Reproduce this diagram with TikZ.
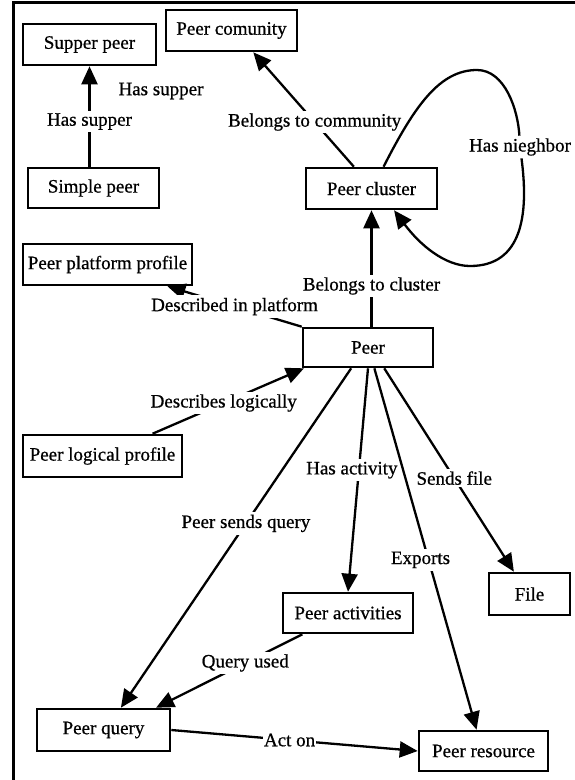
\documentclass[tikz,border=0pt]{standalone}
\usepackage{fontspec}
\setmainfont[FakeBold=0.7]{Liberation Serif}
\usetikzlibrary{arrows.meta,calc}
\begin{document}
\begin{tikzpicture}[x=1pt,y=-1pt,
  txt/.style={font=\fontsize{19}{22}\selectfont},
  box/.style={txt,draw,line width=2.6pt,inner sep=0pt,minimum height=41pt},
  lab/.style={txt,fill=white,inner sep=2.5pt},
  con/.style={line width=2.3pt},
  arr/.style={con,-{Triangle[length=18pt,width=16pt]}}]
\useasboundingbox (0,0) rectangle (574,780);
% frame
\draw[line width=3pt] (13,781) -- (13,2) -- (575,2);

% concepts
\node[box,minimum width=133pt] (sup)  at (89.5,44.5)  {Supper peer};
\node[box,minimum width=131pt] (com)  at (231.5,30.5) {Peer comunity};
\node[box,minimum width=131pt,minimum height=40pt] (sim) at (93.5,188) {Simple peer};
\node[box,minimum width=131pt] (cl)   at (371.5,188.5) {Peer cluster};
\node[box,minimum width=169pt] (plat) at (107.5,264.5) {Peer platform profile};
\node[box,minimum width=130pt,minimum height=39pt] (pe) at (368,347.5) {Peer};
\node[box,minimum width=159pt,minimum height=42pt] (logi) at (102.5,456) {Peer logical profile};
\node[box,minimum width=81pt,minimum height=42pt] (file) at (529.5,594) {File};
\node[box,minimum width=130pt,minimum height=40pt] (act) at (348,613) {Peer activities};
\node[box,minimum width=133pt,minimum height=42pt] (pq) at (103.5,730) {Peer query};
\node[box,minimum width=129pt,minimum height=40pt] (pr) at (483.5,751) {Peer resource};

% free-standing label
\node[lab] (hs2) at (161,91) {Has supper};

% relations
\draw[arr] (sim.north -| sup.south) -- node[lab,pos=0.45] {Has supper} (sup.south);
\draw[arr] (cl.129) -- node[lab,pos=0.39] {Belongs to community} (com.-45);

\node[lab] (nb) at (520,147) {Has nieghbor};
\coordinate (loopTop) at (477,70);
\coordinate (loopBot) at (470,266);
\draw[con] (cl.61) .. controls (415,105) and (440,70) .. (loopTop)
  .. controls (505,70) and (518,110) .. (nb);
\draw[arr] (nb) .. controls (529,215) and (522,266) .. (loopBot)
  .. controls (445,266) and (420,245) .. (cl.-44);

\draw[arr] (pe.north -| cl.south) -- node[lab,pos=0.35] {Belongs to cluster} (cl.south);
\draw[arr] (pe.north west) -- node[lab,pos=0.5] {Described in platform} (plat.-20);
\draw[arr] (logi.24) -- node[lab,pos=0.47] {Describes logically} (pe.198);

\draw[arr] (pe.231) -- node[lab,pos=0.457] {Peer sends query} (pq.52);
\draw[arr] (pe.south) -- node[lab,pos=0.456,xshift=-7pt] {Has activity} (act.north);
\draw[arr] (pe.-73) -- node[lab,pos=0.53,xshift=-8pt] {Exports} (pr.108);
\draw[arr] (pe.-52) -- node[lab,pos=0.54] {Sends file} (file.125);
\draw[arr] (act.205) -- node[lab,pos=0.39] {Query used} (pq.23);
\draw[arr] (pq.east) -- node[lab,pos=0.48,inner xsep=1pt] {Act on} (pr.west);
\end{tikzpicture}
\end{document}
